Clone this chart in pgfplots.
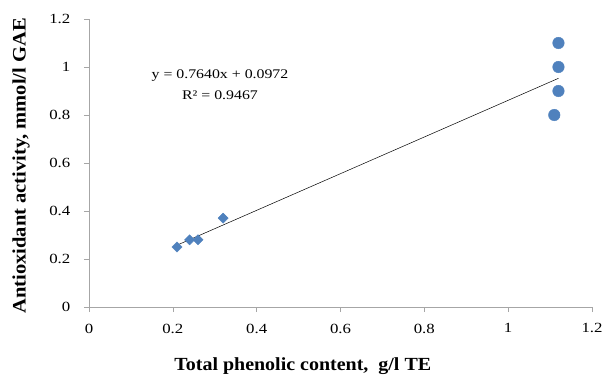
\documentclass[border=0pt]{standalone}
\usepackage{pgfplots}
\pgfplotsset{compat=1.18}
\usepackage{fontspec}
\setmainfont{Liberation Serif}[FakeStretch=1.2]
\newfontfamily\labfont{Liberation Serif}[FakeStretch=1.08]
\definecolor{exblue}{HTML}{4F81BD}
\begin{document}
\begin{tikzpicture}[x=1pt,y=1pt]
\begin{axis}[
  at={(0,0)}, anchor=south west,
  scale only axis, width=503pt, height=288pt,
  xmin=0, xmax=1.2, ymin=0, ymax=1.2,
  xtick={0,0.2,...,1.2}, ytick={0,0.2,...,1.2},
  xticklabels={0,0.2,0.4,0.6,0.8,1,1.2},
  yticklabels={0,0.2,0.4,0.6,0.8,1,1.2},
  axis lines*=left,
  axis line style={draw=gray!70, line width=0.6pt, -},
  tick style={draw=gray!70, line width=0.6pt},
  tick align=outside, major tick length=5pt,
  ticklabel style={font=\fontsize{14}{16}\selectfont, inner sep=0pt},
  xticklabel style={yshift=-11.5pt},
  yticklabel style={xshift=-13.5pt},
  clip=false,
]
\addplot[black, line width=0.5pt] coordinates {(0.21,0.2576) (1.12,0.9529)};
\addplot[only marks, mark=square*, mark options={rotate=45}, mark size=3.6pt, color=exblue] coordinates {
 (0.21,0.25) (0.24,0.28) (0.26,0.28) (0.32,0.37)};
\addplot[only marks, mark=*, mark size=5.8pt, color=exblue] coordinates {
 (1.12,1.10) (1.12,1.00) (1.12,0.90) (1.11,0.80)};
\node[font=\fontsize{13.2}{15}\selectfont, inner sep=0pt] at (axis cs:0.3125,0.9625) {y = 0.7640x + 0.0972};
\node[font=\fontsize{13.2}{15}\selectfont, inner sep=0pt] at (axis cs:0.3125,0.883) {R² = 0.9467};
\node[font=\labfont\fontsize{18.5}{20}\selectfont\bfseries, inner sep=0pt] at (rel axis cs:0.425,-0.206) {Total phenolic content, \ g/l TE};
\node[font=\labfont\fontsize{19}{20}\selectfont\bfseries, inner sep=0pt, rotate=90] at (rel axis cs:-0.135,0.49) {Antioxidant activity, mmol/l GAE};
\end{axis}
\useasboundingbox (-89,-69) rectangle (514,307);
\end{tikzpicture}
\end{document}
